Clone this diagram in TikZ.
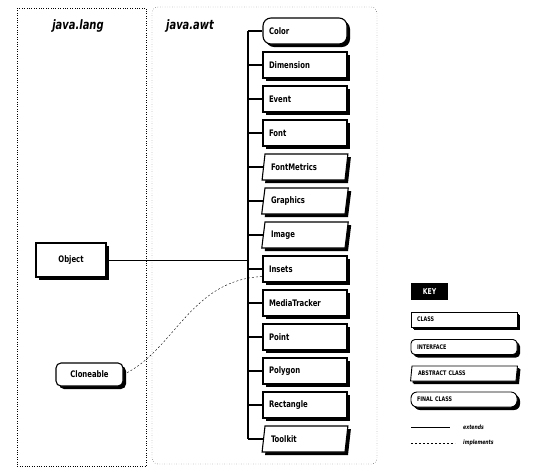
\documentclass[tikz,border=0pt]{standalone}
\usepackage{fontspec}
\newfontfamily\diafont[FakeStretch=0.85]{DejaVu Sans Condensed}
\usetikzlibrary{shapes.geometric, shadows}

\tikzset{
  blackshadow/.style={drop shadow={shadow xshift=3pt, shadow yshift=-3pt, fill=black, opacity=1}},
  classbox/.style={draw, line width=1.1pt, fill=white, rectangle, minimum width=84pt, minimum height=26pt,
    inner xsep=6pt, text width=72pt, align=left, blackshadow,
    font=\diafont\bfseries\fontsize{9}{10}\selectfont},
  finalbox/.style={classbox, rounded corners=8pt},
  ifacebox/.style={classbox, rounded corners=5pt},
  abstractbox/.style={classbox, trapezium, trapezium left angle=78, trapezium right angle=102,
    trapezium stretches body, text width=68pt},
  keysize/.style={minimum width=106pt, minimum height=15pt, text width=94pt, inner ysep=1pt,
    line width=0.9pt, drop shadow={shadow xshift=2pt, shadow yshift=-2pt, fill=black, opacity=1},
    font=\diafont\bfseries\fontsize{6.3}{7}\selectfont},
  pkgtitle/.style={font=\diafont\bfseries\itshape\fontsize{13}{15}\selectfont},
  legendtext/.style={anchor=west, inner sep=0pt, font=\diafont\bfseries\itshape\fontsize{6}{7}\selectfont}
}

\begin{document}
\begin{tikzpicture}[x=1pt, y=-1pt]
    \useasboundingbox (0,0) rectangle (549,475);

    % The two packages
    \draw[dotted, thin] (17,8) rectangle (146,466);
    \draw[dotted, thin, rounded corners=6pt] (152,7) rectangle (377,464);
    \node[pkgtitle] (langtitle) at (78,26) {java.lang};
    \node[pkgtitle] (awttitle) at (190,26) {java.awt};

    % Classes of java.awt
    \coordinate (trunk) at (248,0);
    \foreach \cls/\kind [count=\i from 0] in {Color/finalbox, Dimension/classbox, Event/classbox,
        Font/classbox, FontMetrics/abstractbox, Graphics/abstractbox, Image/abstractbox,
        Insets/classbox, MediaTracker/classbox, Point/classbox, Polygon/classbox,
        Rectangle/classbox, Toolkit/abstractbox} {
        \node[\kind] (\cls) at (305, {31+34*\i}) {\cls};
        \draw[line width=1.6pt] (\cls.west -| trunk) -- (\cls.west);
    }
    \draw[line width=1.6pt] (Color.west -| trunk) -- (Toolkit.west -| trunk);

    % java.lang
    \node[classbox, minimum width=70pt, minimum height=34pt, text width=58pt, align=center] (Object) at (71,260) {Object};
    \node[ifacebox, minimum width=67pt, minimum height=23pt, text width=55pt, align=center] (Cloneable) at (89.5,374.5) {Cloneable};
    \draw (Object.east) -- (Object.east -| trunk);
    \draw[dash pattern=on 2pt off 2pt] (Cloneable.east) .. controls (175,350) and (190,280) .. (Insets.190);

    % Key
    \node[fill=black, text=white, minimum width=37pt, minimum height=17pt, inner sep=0pt,
        font=\diafont\bfseries\fontsize{8}{9}\selectfont] (key) at (429.5,291.5) {KEY};
    \node[classbox, keysize] (keyclass) at (464,319.5) {CLASS};
    \node[ifacebox, keysize, rounded corners=4pt] (keyiface) at (464,347) {INTERFACE};
    \node[abstractbox, keysize, text width=92pt] (keyabstract) at (464,373.5) {ABSTRACT CLASS};
    \node[finalbox, keysize, rounded corners=6pt] (keyfinal) at (464,399.5) {FINAL CLASS};

    \coordinate (extstart) at (411,427);
    \coordinate (extend) at (450,427);
    \draw (extstart) -- (extend);
    \node[legendtext] (extlabel) at (463,427) {extends};
    \coordinate (impstart) at (411,443);
    \coordinate (impend) at (455,443);
    \draw[dash pattern=on 2pt off 2pt] (impstart) -- (impend);
    \node[legendtext] (implabel) at (463,443) {implements};
\end{tikzpicture}
\end{document}
